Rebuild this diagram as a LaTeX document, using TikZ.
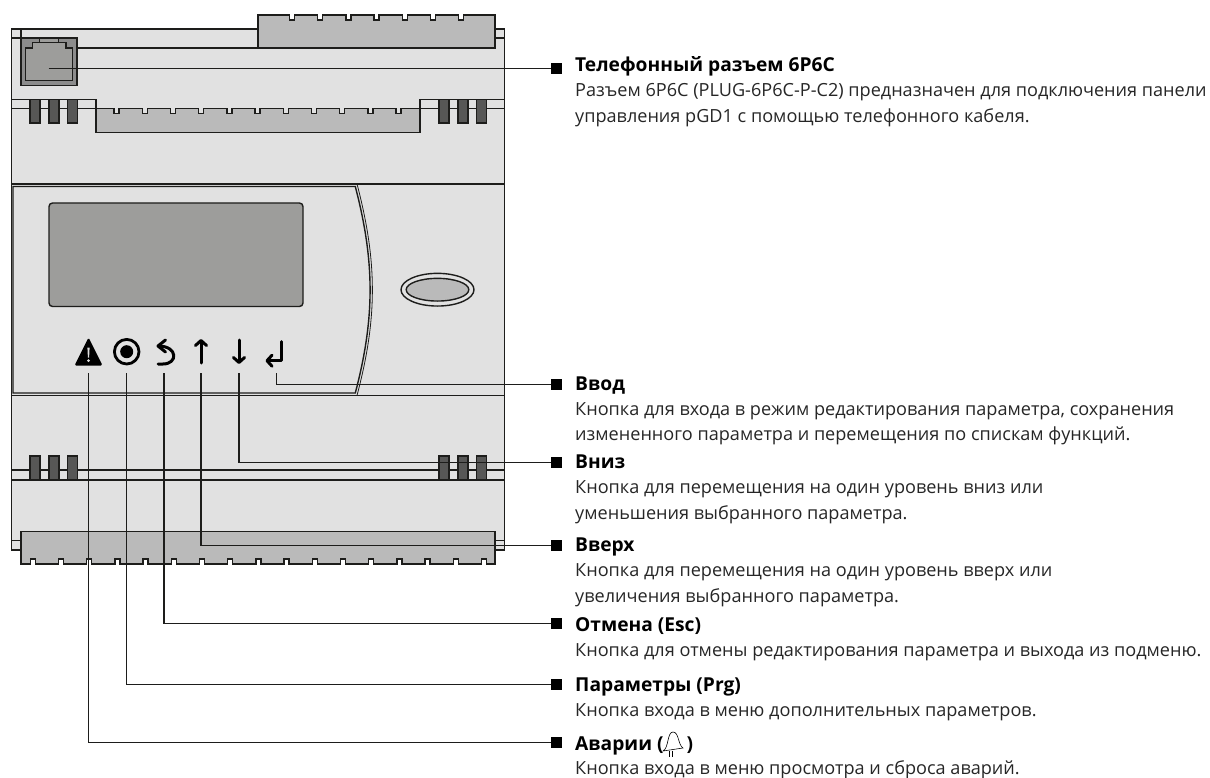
\documentclass[tikz,border=0pt]{standalone}
\usepackage{fontspec}
\setmainfont{Open Sans}
\usetikzlibrary{arrows.meta, positioning, calc, shapes.geometric}
\definecolor{bodygray}{HTML}{E1E1E1}
\definecolor{slotgray}{HTML}{BABABA}
\definecolor{screengray}{HTML}{9D9D9B}
\definecolor{jackgray}{HTML}{8C8C8C}
\definecolor{clipgray}{HTML}{575756}
\definecolor{linegray}{HTML}{1D1D1B}
\tikzset{
  outline/.style={draw=linegray, line width=1.4pt},
  clip bar/.style={outline, fill=clipgray},
  connector/.style={outline, fill=slotgray, line join=miter},
  leader/.style={draw=linegray, line width=1.4pt},
  endmark/.style={rectangle, fill=black, minimum size=10.5pt, inner sep=0pt},
  icon/.style={draw=black, line width=3pt, line join=round},
  arrow head/.style={-{Straight Barb[round,length=5pt,width=11pt]}, icon, line cap=round},
  title/.style={anchor=base west, inner sep=0pt, font=\bfseries\fontsize{19.2}{19.2}\selectfont, text=black},
  descr/.style={anchor=north west, inner sep=0pt, font=\fontsize{18.1}{25.7}\selectfont, text=black!85, align=left}
}
\begin{document}
\begin{tikzpicture}[x=1pt, y=-1pt]
  \useasboundingbox (0,0) rectangle (1210,778);
  % device body
  \path[outline, fill=bodygray] (11.5,29) rectangle (504.5,550);
  \draw[outline] (11.5,38) -- (21,38);
  \draw[outline] (495,38) -- (504.5,38);
  \draw[outline] (21,29) -- (21,38);
  \draw[outline] (77,48) -- (258,48);
  % top connector
  \path[connector] (258,15) -- ++(31.5,0) -- ++(0,5) -- ++(5,0) -- ++(0,-5)
    \foreach \i in {2,...,7} {-- ++(23.2,0) -- ++(0,5) -- ++(5,0) -- ++(0,-5)} -- (495,15) -- (495,48) -- (258,48) -- cycle;
  % phone jack
  \path[outline, fill=jackgray] (21,38) rectangle (77,85.5);
  \path[outline, fill=screengray] (25.5,80.5) -- (25.5,48) -- (32.5,48) -- (32.5,42.5) -- (39.5,42.5) -- (39.5,38)
    -- (58.5,38) -- (58.5,42.5) -- (66,42.5) -- (66,48) -- (72.5,48) -- (72.5,80.5) -- cycle;
  \draw[outline] (39.5,42.5) -- (58.5,42.5);
  % upper rail
  \draw[outline] (11.5,99.5) -- (96,99.5);
  \draw[outline] (420,99.5) -- (504.5,99.5);
  \draw[outline] (11.5,108.5) -- (96,108.5);
  \draw[outline] (420,108.5) -- (504.5,108.5);
  \path[connector] (96,108.5) -- ++(18,0) -- ++(0,5) -- ++(5,0) -- ++(0,-5)
    \foreach \i in {2,...,11} {-- ++(23.2,0) -- ++(0,5) -- ++(5,0) -- ++(0,-5)} -- (420,108.5) -- (420,132.5) -- (96,132.5) -- cycle;
  \draw[outline] (96,99.5) -- (96,108.5) (420,99.5) -- (420,108.5);
  \foreach \x in {30,49,67.5,439,458,476.5}
    \path[clip bar] (\x,99.5) rectangle ++(10,23.5);
  % front panel
  \draw[outline] (11.5,184) -- (504.5,184);
  \draw[outline] (11.5,395.5) -- (504.5,395.5);
  \path[outline, fill=bodygray] (13,186.5) -- (355.3,186.5)
    .. controls (375,262) and (375,318) .. (355.3,393) -- (13,393) -- cycle;
  \draw[outline, line width=0.8pt] (357,184) .. controls (377.5,262) and (377.5,318) .. (357,395.5);
  % display
  \path[outline, fill=screengray, rounded corners=3.5pt] (49,203) rectangle (303,306.5);
  % logo oval
  \node[outline, ellipse, fill=bodygray, minimum width=73pt, minimum height=32.7pt, inner sep=0pt] (oval) at (437.5,289.7) {};
  \node[outline, ellipse, fill=slotgray, minimum width=62.6pt, minimum height=22.7pt, inner sep=0pt] (ovalin) at (oval) {};
  % lower rail
  \draw[outline] (11.5,470) -- (504.5,470);
  \draw[outline] (11.5,480) -- (504.5,480);
  \foreach \x in {30,49,67.5,439,458,476.5}
    \path[clip bar] (\x,456) rectangle ++(10,24);
  % lower connector
  \draw[outline] (11.5,540.7) -- (21,540.7);
  \draw[outline] (495,540.7) -- (504.5,540.7);
  \path[connector] (21,531.5) -- (495,531.5) -- (495,564) -- ++(-8.5,0)
    \foreach \i in {1,...,16} {-- ++(0,-5) -- ++(-5,0) -- ++(0,5) -- ++(-23.2,0)} -- ++(0,-5) -- ++(-5,0) -- ++(0,5) -- (21,564) -- cycle;
  % button icons
  \node[coordinate] (alarm) at (88.5,373) {};
  \node[coordinate] (prg) at (126.5,373) {};
  \node[coordinate] (esc) at (164,373) {};
  \node[coordinate] (up) at (201,373) {};
  \node[coordinate] (down) at (239,373) {};
  \node[coordinate] (enter) at (276.7,373) {};
  \path[fill=black, rounded corners=1.5pt] (74.5,365.5) -- (88.5,337.5) -- (102.5,365.5) -- cycle;
  \path[fill=bodygray] (87.4,347.5) -- (89.6,347.5) -- (89.1,357.5) -- (87.9,357.5) -- cycle;
  \path[fill=bodygray] (88.5,360.5) circle (1.5pt);
  \draw[icon, line width=2.8pt] (126.7,351.7) circle (12.3pt);
  \path[fill=black] (126.7,351.7) circle (6.5pt);
  \draw[icon, line cap=round] (158,364) -- (163,364) .. controls (178,364) and (178,346.5) .. (159,346);
  \draw[icon, line cap=round] (165.5,340) -- (158,346) -- (165.5,352);
  \draw[arrow head] (201,363) -- (201,339);
  \draw[arrow head] (239,340) -- (239,364);
  \draw[arrow head] (281.7,341.7) -- (281.7,360.7) -- (265.5,360.7);
  % titles and texts
  \node[title] (t1) at (575,72) {Телефонный разъем 6P6C};
  \node[descr, below=11pt of t1.base west, anchor=north west] (d1) {Разъем 6P6C (PLUG-6P6C-P-C2) предназначен для подключения панели\\управления pGD1 с помощью телефонного кабеля.};
  \node[title] (t2) at (575,390) {Ввод};
  \node[descr, below=12pt of t2.base west, anchor=north west] (d2) {Кнопка для входа в режим редактирования параметра, сохранения\\измененного параметра и перемещения по спискам функций.};
  \node[title] (t3) at (575,468.3) {Вниз};
  \node[descr, below=12pt of t3.base west, anchor=north west] (d3) {Кнопка для перемещения на один уровень вниз или\\уменьшения выбранного параметра.};
  \node[title] (t4) at (575,551.7) {Вверх};
  \node[descr, below=12pt of t4.base west, anchor=north west] (d4) {Кнопка для перемещения на один уровень вверх или\\увеличения выбранного параметра.};
  \node[title] (t5) at (575,631) {Отмена (Esc)};
  \node[descr, below=12pt of t5.base west, anchor=north west] (d5) {Кнопка для отмены редактирования параметра и выхода из подменю.};
  \node[title] (t6) at (575,691.7) {Параметры (Prg)};
  \node[descr, below=12pt of t6.base west, anchor=north west] (d6) {Кнопка входа в меню дополнительных параметров.};
  \node[title] (t7) at (575,750) {Аварии (\hspace{23pt})};
  \node[descr, below=10.5pt of t7.base west, anchor=north west] (d7) {Кнопка входа в меню просмотра и сброса аварий.};
  % bell inside the last title
  \draw[line width=0.6pt] (663,751) .. controls (669,748) and (667,732) .. (673,732)
    .. controls (679,732) and (678,745) .. (683,748) -- cycle;
  \draw[line width=0.6pt] (669,751) -- (669,757) (672.5,750.5) -- (672.5,757);
  % leaders
  \node[endmark] (m1) at (556.5,68.3) {};
  \node[endmark] (m2) at (556.5,384.3) {};
  \node[endmark] (m3) at (556.5,462.3) {};
  \node[endmark] (m4) at (556.5,545.7) {};
  \node[endmark] (m5) at (556.5,623.3) {};
  \node[endmark] (m6) at (556.5,684.3) {};
  \node[endmark] (m7) at (556.5,742.3) {};
  \coordinate (jackpin) at (48.5,68.3);
  \draw[leader] (jackpin) -- (m1);
  \draw[leader] (enter) |- (m2);
  \draw[leader] (down) |- (m3);
  \draw[leader] (up) |- (m4);
  \draw[leader] (esc) |- (m5);
  \draw[leader] (prg) |- (m6);
  \draw[leader] (alarm) |- (m7);
\end{tikzpicture}
\end{document}
